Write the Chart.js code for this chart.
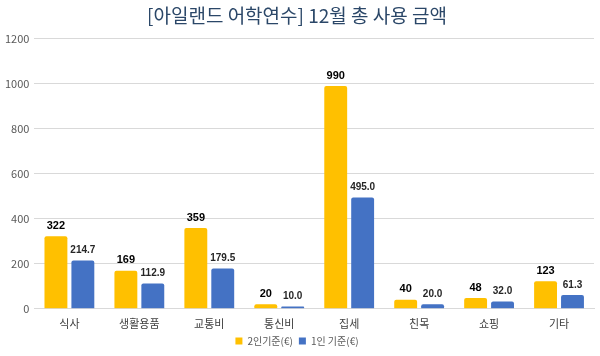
<!DOCTYPE html>
<html><head><meta charset="utf-8">
<script src="https://cdn.jsdelivr.net/npm/chart.js@4"></script>
<style>html,body{margin:0;padding:0;background:#fff}#wrap{width:600px;height:356px}</style>
</head><body><div id="wrap"><canvas id="c" width="600" height="356"></canvas></div>
<script>
const categories = ['식사','생활용품','교통비','통신비','집세','친목','쇼핑','기타'];
const twoPerson = [322,169,359,20,990,40,48,123];
const onePerson = [214.7,112.9,179.5,10.0,495.0,20.0,32.0,61.3];
const seriesNames = ['2인기준(€)','1인 기준(€)'];
const yTicks = [0,200,400,600,800,1000,1200];
const titleText = '[아일랜드 어학연수] 12월 총 사용 금액';

const FONT = "'Noto Sans CJK KR','Noto Sans',sans-serif";
const labelPlugin = {
  id:'vlabels',
  afterDatasetsDraw(chart){
    const ctx = chart.ctx;
    chart.data.datasets.forEach((ds,di)=>{
      const meta = chart.getDatasetMeta(di);
      meta.data.forEach((el,i)=>{
        const v = ds.data[i];
        const txt = di===0 ? String(Math.round(v)) : v.toFixed(1);
        ctx.save();
        ctx.font = di===0 ? "bold 11px 'Liberation Sans',Arial,sans-serif" : "bold 10px 'Liberation Sans',Arial,sans-serif";
        ctx.fillStyle = di===0 ? '#000' : '#262626';
        ctx.textAlign='center'; ctx.textBaseline='bottom';
        ctx.fillText(txt, el.x, el.y-5);
        ctx.restore();
      });
    });
  }
};
new Chart(document.getElementById('c'),{
  type:'bar',
  data:{labels:categories,datasets:[
    {label:seriesNames[0],data:twoPerson,backgroundColor:'#FFC000',borderRadius:2,borderSkipped:'bottom',categoryPercentage:0.77,barPercentage:0.85},
    {label:seriesNames[1],data:onePerson,backgroundColor:'#4472C4',borderRadius:2,borderSkipped:'bottom',categoryPercentage:0.77,barPercentage:0.85}
  ]},
  options:{
    responsive:false,animation:false,
    layout:{padding:{left:0,right:6,top:0,bottom:0}},
    plugins:{
      title:{display:true,text:titleText,color:'#2B4768',font:{family:FONT,size:19,weight:'normal'},padding:{top:4,bottom:12}},
      legend:{position:'bottom',labels:{boxWidth:7,boxHeight:7,padding:6,color:'#595959',font:{family:FONT,size:10}}},
      tooltip:{enabled:false}
    },
    scales:{
      x:{grid:{display:false},border:{color:'#d9d9d9'},ticks:{color:'#404040',font:{family:FONT,size:11},padding:0}},
      y:{min:0,max:1200,afterBuildTicks(ax){ax.ticks=yTicks.map(v=>({value:v}));},
         grid:{color:'#d9d9d9',drawTicks:false},border:{display:false},
         ticks:{color:'#595959',font:{family:FONT,size:11},padding:5,callback:v=>String(v)}}
    }
  },
  plugins:[labelPlugin]
});
</script></body></html>
